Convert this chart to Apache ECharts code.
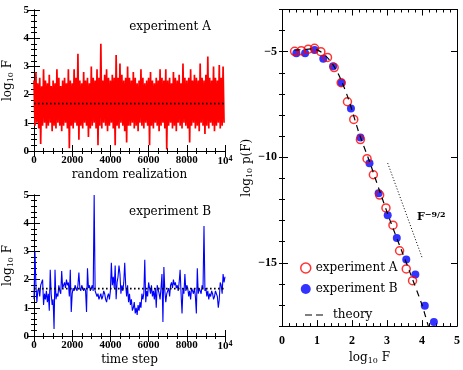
<!DOCTYPE html>
<html>
<head>
<meta charset="utf-8">
<script src="https://cdn.jsdelivr.net/npm/echarts/dist/echarts.min.js"></script>
<style>
  html, body { margin: 0; padding: 0; background: #fff; }
  #main { width: 463px; height: 370px; }
</style>
</head>
<body>
<div id="main"></div>
<script>
// experiment A: upper / lower extremes of log10 F per bin of 100 realizations
var redHi = [2.5, 2.8, 2.4, 2.6, 2.3, 2.9, 2.5, 2.4, 2.7, 2.3,
             2.5, 2.4, 2.9, 2.6, 2.3, 2.5, 2.6, 2.4, 2.9, 2.5,
             2.4, 2.9, 2.6, 3.45, 2.5, 2.4, 2.8, 2.5, 2.6, 2.4,
             3.0, 2.6, 2.5, 2.9, 2.6, 3.8, 2.5, 2.7, 2.9, 2.6,
             2.5, 2.7, 2.6, 3.4, 2.6, 3.1, 2.7, 2.5, 2.6, 3.0,
             2.6, 2.5, 2.8, 2.6, 2.4, 2.5, 2.9, 2.6, 2.4, 2.5,
             2.6, 2.8, 2.5, 2.4, 2.6, 2.5, 2.9, 2.6, 2.5, 2.9,
             2.5, 2.6, 2.4, 2.8, 2.6, 2.5, 2.7, 2.4, 3.1, 2.6,
             2.5, 2.6, 2.9, 2.5, 2.7, 2.6, 2.5, 3.1, 2.6, 2.5,
             2.7, 3.35, 2.6, 2.5, 3.0, 2.6, 2.5, 3.05, 2.6, 3.0];
var redLo = [0.9, 1.0, 0.8, 0.25, 0.9, 1.0, 0.8, 0.9, 1.0, 0.7,
             0.9, 0.8, 1.0, 0.9, 0.7, 0.9, 1.0, 0.8, 0.1, 0.9,
             0.8, 1.0, 0.9, 0.4, 0.9, 0.8, 1.0, 0.9, 0.5, 0.8,
             0.9, 1.0, 0.8, 0.2, 0.9, 0.8, 1.0, 0.9, 0.7, 0.9,
             1.0, 0.8, 0.2, 0.9, 0.8, 1.0, 0.9, 0.7, 0.3, 0.9,
             0.9, 1.0, 0.8, 0.9, 0.7, 1.0, 0.9, 0.8, 1.0, 0.9,
             0.2, 0.9, 0.8, 1.0, 0.9, 0.7, 0.9, 1.0, 0.8, 0.05,
             0.9, 1.0, 0.8, 0.9, 0.7, 1.0, 0.9, 0.8, 1.0, 0.9,
             0.8, 0.3, 0.9, 1.0, 0.8, 0.9, 0.7, 1.0, 0.9, 0.6,
             0.9, 0.8, 1.0, 0.9, 0.7, 0.9, 1.0, 0.8, 0.9, 1.0];
var redStep = 100;

// experiment B: log10 F every 50 time steps
var blueF = [1.3, 3.0, 1.8, 1.2, 1.6, 1.7, 1.4, 1.8, 1.9, 2.0,
             1.1, 1.5, 1.3, 1.6, 1.2, 1.5, 0.9, 2.35, 1.5, 1.1,
             1.3, 0.25, 2.35, 1.3, 1.5, 1.4, 1.8, 1.6, 1.5, 2.3,
             1.7, 1.8, 1.9, 1.7, 2.0, 1.8, 1.9, 1.4, 2.35, 0.85,
             1.5, 1.7, 1.6, 1.8, 1.7, 1.6, 1.8, 2.25, 1.7, 1.6,
             1.8, 1.7, 1.6, 1.7, 1.6, 0.85, 2.4, 1.7, 1.8, 1.6,
             1.7, 1.8, 1.6, 5.0, 1.6, 1.5, 1.4, 1.5, 1.3, 1.4,
             1.5, 1.3, 1.4, 1.6, 1.5, 1.3, 1.2, 1.4, 1.5, 1.3,
             1.6, 2.6, 1.8, 2.1, 1.7, 2.5, 1.3, 1.9, 2.1, 2.5,
             2.2, 1.5, 1.8, 1.6, 1.9, 2.6, 1.8, 1.4, 1.8, 1.2,
             1.5, 1.1, 1.3, 0.9, 1.0, 1.2, 0.8, 1.0, 0.75, 1.1,
             0.9, 1.2, 1.0, 1.5, 1.3, 1.5, 2.7, 1.2, 1.6, 1.4,
             1.9, 1.7, 1.5, 1.8, 1.4, 1.6, 1.3, 1.7, 1.0, 1.8,
             1.8, 1.5, 1.3, 1.7, 2.2, 0.5, 2.45, 1.6, 1.2, 1.5,
             1.6, 1.7, 1.4, 1.8, 1.9, 1.7, 2.0, 1.8, 1.9, 1.7,
             1.8, 1.6, 1.9, 2.35, 1.5, 0.8, 1.7, 1.5, 2.2, 1.6,
             1.8, 1.7, 1.4, 1.6, 1.3, 1.7, 1.6, 1.5, 1.7, 1.4,
             0.8, 2.4, 1.5, 1.7, 1.6, 1.5, 1.8, 1.7, 3.9, 1.6,
             1.7, 1.4, 1.6, 1.3, 1.5, 1.4, 1.6, 1.5, 1.3, 1.4,
             1.6, 1.5, 1.4, 1.0, 1.3, 1.9, 1.8, 1.5, 2.2, 1.9, 2.1];
var blueStep = 50;

var meanA = 1.68;
var meanB = 1.68;

// right panel: log10 F vs log10 p(F)
var expAx = [0.36, 0.55, 0.75, 0.93, 1.11, 1.30, 1.49, 1.69, 1.87, 2.05, 2.24, 2.43, 2.61, 2.79, 2.97, 3.17, 3.36, 3.55, 3.73];
var expAy = [-4.98, -4.95, -4.88, -4.84, -5.0, -5.27, -5.75, -6.47, -7.37, -8.21, -9.16, -10.07, -10.83, -11.79, -12.40, -13.22, -14.43, -15.29, -15.85];
var expBx = [0.41, 0.66, 0.93, 1.18, 1.46, 1.70, 1.97, 2.24, 2.50, 2.76, 3.02, 3.28, 3.55, 3.81, 4.08, 4.34];
var expBy = [-5.07, -5.07, -4.92, -5.33, -5.69, -6.47, -7.69, -9.07, -10.28, -11.71, -12.75, -13.83, -14.84, -15.55, -17.03, -17.80];
var theoryX = [0.35, 0.6, 0.85, 1.05, 1.25, 1.45, 1.65, 1.9, 2.2, 2.5, 2.8, 3.1, 3.4, 3.7, 4.0, 4.18];
var theoryY = [-4.92, -4.9, -4.87, -4.95, -5.2, -5.6, -6.2, -7.25, -8.85, -10.2, -11.65, -13.05, -14.35, -15.65, -17.0, -18.0];
var slopeX = [3.02, 4.0];
var slopeY = [-10.28, -14.74];

var serif = 'DejaVu Serif';
var tickFont = 'Liberation Serif';

(function () {

    var pairs = function (xs, ys) {
        return xs.map(function (x, i) { return [x, ys[i]]; });
    };

    // zigzag between the high and low of each bin so the band reads solid
    var redPts = [];
    for (var i = 0; i < redHi.length; i++) {
        redPts.push([i * redStep, redHi[i]]);
        redPts.push([i * redStep + redStep / 2, redLo[i]]);
    }
    var bluePts = blueF.map(function (v, j) { return [j * blueStep, v]; });

    var tickStyle = { inside: true, length: 6, lineStyle: { color: '#000', width: 1 } };
    var lineStyle = { show: true, lineStyle: { color: '#000', width: 1 } };
    var labelStyle = { fontFamily: tickFont, fontWeight: 'bold', fontSize: 11, color: '#000' };
    var subRich = {
        sub: { fontFamily: serif, fontSize: 8, color: '#000', verticalAlign: 'bottom', padding: [6, 0, 0, 0] },
        sup: { fontFamily: tickFont, fontWeight: 'bold', fontSize: 8, color: '#000', verticalAlign: 'top', padding: [0, 0, 5, 0] }
    };
    var nameStyle = { fontFamily: serif, fontSize: 12, color: '#000', rich: subRich };

    var xAxisFor = function (grid, pos, opts) {
        return Object.assign({
            type: 'value', gridIndex: grid, position: pos,
            axisLine: lineStyle, axisTick: tickStyle,
            splitLine: { show: false },
            axisLabel: { show: false }
        }, opts);
    };

    var timeAxis = function (grid, pos, name) {
        return xAxisFor(grid, pos, {
            min: 0, max: 10000, interval: 2000,
            minorTick: { show: true, splitNumber: 4, length: 3, lineStyle: { color: '#000' } },
            name: pos === 'bottom' ? name : '',
            nameLocation: 'middle', nameGap: 18,
            nameTextStyle: nameStyle,
            axisLabel: pos === 'bottom' ? Object.assign({
                margin: 4, rich: subRich,
                formatter: function (v) { return v === 10000 ? '10{sup|4}' : String(v); }
            }, labelStyle) : { show: false }
        });
    };

    var fAxis = function (grid, pos) {
        return {
            type: 'value', gridIndex: grid, position: pos,
            min: 0, max: 5, interval: 1,
            axisLine: lineStyle, axisTick: tickStyle,
            minorTick: { show: true, splitNumber: 5, length: 3, lineStyle: { color: '#000' } },
            splitLine: { show: false },
            axisLabel: pos === 'left' ? Object.assign({ margin: 5 }, labelStyle) : { show: false },
            name: pos === 'left' ? 'log{sub|10} F' : '',
            nameLocation: 'middle', nameGap: 19,
            nameTextStyle: nameStyle
        };
    };

    var pAxis = function (pos, major) {
        var a = {
            type: 'value', gridIndex: 2, position: pos,
            min: -18, max: -3, interval: 1,
            axisLine: lineStyle,
            splitLine: { show: false }
        };
        if (major) {
            a.axisTick = Object.assign({ customValues: [-15, -10, -5] }, tickStyle);
            a.axisLabel = { show: false };
        } else {
            a.axisTick = { inside: true, length: 3, lineStyle: { color: '#000' } };
            a.axisLabel = pos === 'left' ? Object.assign({
                margin: 5,
                formatter: function (v) { return v % 5 === 0 ? '\u2212' + Math.abs(v) : ''; }
            }, labelStyle, { fontSize: 12 }) : { show: false };
            if (pos === 'left') {
                a.name = 'log{sub|10} p(F)';
                a.nameLocation = 'middle';
                a.nameGap = 25;
                a.nameTextStyle = nameStyle;
            }
        }
        return a;
    };

    var myChart = echarts.init(document.getElementById('main'));
    myChart.setOption({
        animation: false,
        backgroundColor: '#fff',
        grid: [
            { left: 34, top: 10, width: 191, height: 141 },
            { left: 34, top: 195, width: 191, height: 141 },
            { left: 282, top: 9.5, width: 177, height: 325.5 }
        ],
        xAxis: [
            timeAxis(0, 'bottom', 'random realization'),
            timeAxis(0, 'top'),
            timeAxis(1, 'bottom', 'time step'),
            timeAxis(1, 'top'),
            xAxisFor(2, 'bottom', {
                min: 0, max: 5, interval: 1,
                minorTick: { show: true, splitNumber: 5, length: 3, lineStyle: { color: '#000' } },
                name: 'log{sub|10} F', nameLocation: 'middle', nameGap: 21,
                nameTextStyle: nameStyle,
                axisLabel: Object.assign({ margin: 9 }, labelStyle, { fontSize: 12 })
            }),
            xAxisFor(2, 'top', {
                min: 0, max: 5, interval: 1,
                minorTick: { show: true, splitNumber: 5, length: 3, lineStyle: { color: '#000' } }
            })
        ],
        yAxis: [
            fAxis(0, 'left'),
            fAxis(0, 'right'),
            fAxis(1, 'left'),
            fAxis(1, 'right'),
            pAxis('left', false),
            pAxis('right', false),
            pAxis('left', true),
            pAxis('right', true)
        ],
        legend: [
            {
                left: 295, top: 257, orient: 'vertical', itemGap: 9,
                itemWidth: 10, itemHeight: 10,
                textStyle: { fontFamily: serif, fontSize: 12, color: '#000' },
                data: [
                    { name: 'experiment A', icon: 'circle', itemStyle: { color: '#fff', borderColor: '#ff0000', borderWidth: 1.5 } },
                    { name: 'experiment B', icon: 'circle' }
                ]
            },
            {
                left: 300, top: 304, orient: 'vertical',
                itemWidth: 18, itemHeight: 1.5,
                textStyle: { fontFamily: serif, fontSize: 12, color: '#000', padding: [0, 0, 0, 5] },
                data: [{ name: 'theory', icon: 'path://M0,0H7V1H0Z M11,0H18V1H11Z', itemStyle: { color: '#000' } }]
            }
        ],
        graphic: [
            { type: 'text', x: 170, y: 27, style: { text: 'experiment A', font: '12px "DejaVu Serif"', fill: '#000', align: 'center', verticalAlign: 'middle' } },
            { type: 'text', x: 170, y: 212, style: { text: 'experiment B', font: '12px "DejaVu Serif"', fill: '#000', align: 'center', verticalAlign: 'middle' } },
            { type: 'text', x: 417, y: 217, style: {
                text: 'F{s|\u22129/2}', font: 'bold 11px "DejaVu Serif"', fill: '#000', verticalAlign: 'middle',
                rich: { s: { fontFamily: serif, fontWeight: 'bold', fontSize: 8, fill: '#000', verticalAlign: 'top', padding: [0, 0, 5, 0] } }
            } }
        ],
        series: [
            {
                name: 'A', type: 'line', xAxisIndex: 0, yAxisIndex: 0,
                data: redPts, showSymbol: false, symbol: 'none',
                lineStyle: { color: '#ff0000', width: 1.7 }
            },
            {
                name: 'meanA', type: 'line', xAxisIndex: 0, yAxisIndex: 0,
                data: [[0, meanA], [10000, meanA]], symbol: 'none',
                lineStyle: { color: '#000', width: 1.6, type: [1.6, 2.4] }
            },
            {
                name: 'B', type: 'line', xAxisIndex: 2, yAxisIndex: 2,
                data: bluePts, showSymbol: false, symbol: 'none',
                lineStyle: { color: '#0000ff', width: 1.1 }
            },
            {
                name: 'meanB', type: 'line', xAxisIndex: 2, yAxisIndex: 2,
                data: [[0, meanB], [10000, meanB]], symbol: 'none',
                lineStyle: { color: '#000', width: 1.6, type: [1.6, 2.4] }
            },
            {
                name: 'theory', type: 'line', xAxisIndex: 4, yAxisIndex: 4,
                data: pairs(theoryX, theoryY), symbol: 'none', smooth: 0.3,
                lineStyle: { color: '#000', width: 1.2, type: [6, 5] },
                itemStyle: { color: '#000' }
            },
            {
                name: 'slope', type: 'line', xAxisIndex: 4, yAxisIndex: 4,
                data: pairs(slopeX, slopeY), symbol: 'none',
                lineStyle: { color: '#000', width: 1, type: [1, 2] }
            },
            {
                name: 'experiment B', type: 'scatter', xAxisIndex: 4, yAxisIndex: 4,
                data: pairs(expBx, expBy), symbol: 'circle', symbolSize: 8,
                itemStyle: { color: '#0000ff' }
            },
            {
                name: 'experiment A', type: 'scatter', xAxisIndex: 4, yAxisIndex: 4,
                data: pairs(expAx, expAy), symbol: 'circle', symbolSize: 8,
                itemStyle: { color: 'rgba(0,0,0,0)', borderColor: '#ff0000', borderWidth: 1.5 }
            }
        ]
    });
})();
</script>
</body>
</html>
